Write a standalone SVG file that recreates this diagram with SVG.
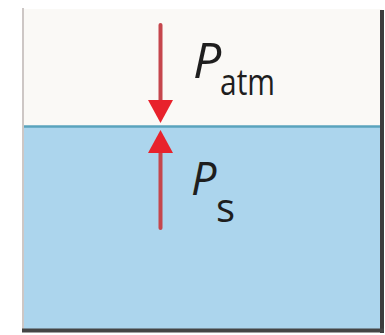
<svg xmlns="http://www.w3.org/2000/svg" width="385" height="335" viewBox="0 0 385 335">
<style>
.shaft{stroke:#c5464c;stroke-width:4;stroke-linecap:round}
.head{fill:#e8222c}
.lbl{font-family:"Open Sans","Liberation Sans",sans-serif;fill:#1e1e1e}
</style>
<rect width="385" height="335" fill="#ffffff"/>
<g id="container">
<rect x="23" y="9" width="359" height="118" fill="#faf9f6"/>
<rect x="23" y="127" width="359" height="202" fill="#acd5ed"/>
<line x1="23" y1="126.5" x2="382" y2="126.5" stroke="#5aa3bd" stroke-width="2.5"/>
<line x1="23" y1="8" x2="23" y2="330" stroke="#cdc7c5" stroke-width="2"/>
<line x1="382" y1="10" x2="382" y2="333" stroke="#3c3c3c" stroke-width="4"/>
<line x1="22" y1="330.5" x2="384" y2="330.5" stroke="#454545" stroke-width="4"/>
</g>
<g id="connectors">
<line class="shaft" x1="160.5" y1="25" x2="160.5" y2="103"/>
<polygon class="head" points="148,100 173,100 160.5,123"/>
<line class="shaft" x1="160.5" y1="150" x2="160.5" y2="228"/>
<polygon class="head" points="160.5,130 173,153 148,153"/>
</g>
<g id="label-patm">
<text class="lbl" x="193" y="78" font-size="50" font-style="italic">P</text>
<text class="lbl" x="220" y="95" font-size="37" textLength="55" lengthAdjust="spacingAndGlyphs">atm</text>
</g>
<g id="label-ps">
<text class="lbl" x="191" y="195" font-size="45" font-style="italic">P</text>
<text class="lbl" x="216" y="222" font-size="40">s</text>
</g>
</svg>
